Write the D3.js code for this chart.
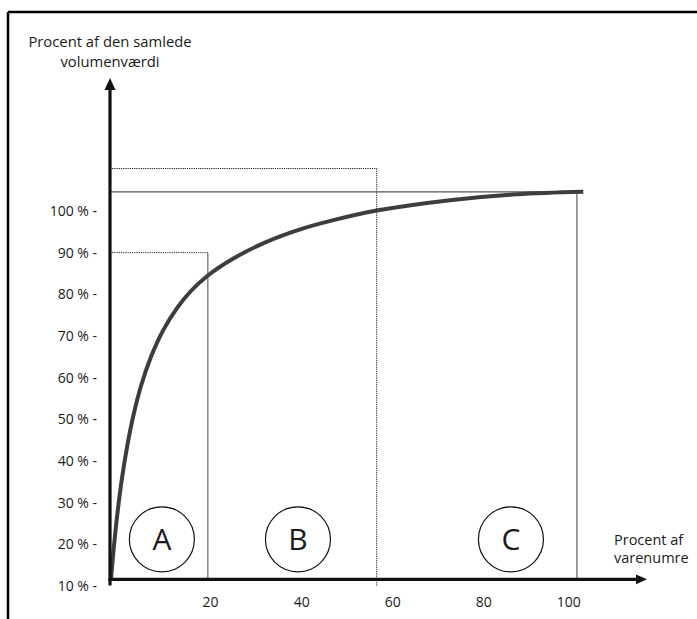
<!DOCTYPE html>
<html>
<head>
<meta charset="utf-8">
<script src="https://cdn.jsdelivr.net/npm/d3@7"></script>
<style>
  html, body { margin: 0; padding: 0; background: #fff; }
  svg { display: block; }
  text { font-family: "Open Sans", "Noto Sans", sans-serif; fill: #1a1a1a; }
</style>
</head>
<body>
<svg id="chart" width="697" height="619"></svg>
<script>
// ---- Data ----
const yTickValues = [10, 20, 30, 40, 50, 60, 70, 80, 90, 100];
const xTickValues = [20, 40, 60, 80, 100];
const curveX = [-1.78, -1.34, -0.90, -0.24, 0.64, 1.74, 3.05, 4.81, 7.01, 9.64, 12.72, 15.79, 19.37, 25.1, 32.4, 39.8, 47.1, 56.6, 72.7, 87.4, 102.0];
const curveY = [11.7, 17.2, 22.1, 28.6, 35.9, 43.3, 50.5, 58.0, 65.0, 71.3, 76.7, 80.8, 84.4, 88.6, 92.6, 95.6, 97.8, 100.1, 102.6, 104.0, 104.6];
const zoneLabels = ["A", "B", "C"];
const zoneCenters = [9.4, 39.3, 86.1];       // x (percent of item numbers)
const zoneCenterY = 21.2;                     // y (percent of value)
const boundaryAB = 19.5, levelA = 90;         // A/B split, 90 % level
const boundaryBC = 56.6, levelB = 110.2;      // B/C split, its level
const boundaryEnd = 100.6, levelEnd = 104.6;  // end of C, 100 % level line
const yTitle = ["Procent af den samlede", "volumenværdi"];
const xTitle = ["Procent af", "varenumre"];

// ---- Scales ----
const svg = d3.select("#chart");
const x = d3.scaleLinear().domain([-2, 116]).range([110, 647]);
const y = d3.scaleLinear().domain([10, 100]).range([586, 211]);
const xAxisLevel = 11.6;     // where the x axis crosses
const yAxisTop = 131.9;      // arrow tip of y axis
const yAxisBottom = 10.1;

// ---- Frame (top and left border) ----
svg.append("line").attr("x1", 8).attr("x2", 697).attr("y1", 12).attr("y2", 12)
  .attr("stroke", "#000").attr("stroke-width", 2.5);
svg.append("line").attr("x1", 8).attr("x2", 8).attr("y1", 12).attr("y2", 619)
  .attr("stroke", "#000").attr("stroke-width", 2.5);

// ---- Reference lines ----
const dotted = "1.2,1";
svg.append("line").attr("x1", x(-2)).attr("x2", x(boundaryAB)).attr("y1", y(levelA)).attr("y2", y(levelA))
  .attr("stroke", "#222").attr("stroke-width", 1).attr("stroke-dasharray", dotted);
svg.append("line").attr("x1", x(boundaryAB)).attr("x2", x(boundaryAB)).attr("y1", y(levelA)).attr("y2", y(xAxisLevel))
  .attr("stroke", "#666").attr("stroke-width", 1.2);
svg.append("line").attr("x1", x(-2)).attr("x2", x(boundaryBC)).attr("y1", y(levelB)).attr("y2", y(levelB))
  .attr("stroke", "#222").attr("stroke-width", 1).attr("stroke-dasharray", dotted);
svg.append("line").attr("x1", x(boundaryBC)).attr("x2", x(boundaryBC)).attr("y1", y(levelB)).attr("y2", y(yAxisBottom))
  .attr("stroke", "#222").attr("stroke-width", 1).attr("stroke-dasharray", dotted);
svg.append("line").attr("x1", x(-2)).attr("x2", x(boundaryEnd)).attr("y1", y(levelEnd)).attr("y2", y(levelEnd))
  .attr("stroke", "#555").attr("stroke-width", 1.2);
svg.append("line").attr("x1", x(boundaryEnd)).attr("x2", x(boundaryEnd)).attr("y1", y(levelEnd)).attr("y2", y(xAxisLevel))
  .attr("stroke", "#777").attr("stroke-width", 1.4);

// ---- Curve ----
const pts = curveX.map((v, i) => [v, curveY[i]]);
svg.append("path").datum(pts)
  .attr("d", d3.line().x(d => x(d[0])).y(d => y(d[1])).curve(d3.curveCatmullRom.alpha(0.5)))
  .attr("fill", "none").attr("stroke", "#3d3d3d").attr("stroke-width", 4);

// ---- Zone circles ----
const zones = svg.append("g");
zoneLabels.forEach((lab, i) => {
  zones.append("circle").attr("cx", x(zoneCenters[i])).attr("cy", y(zoneCenterY)).attr("r", 32.5)
    .attr("fill", "none").attr("stroke", "#111").attr("stroke-width", 1.2);
  zones.append("text").attr("x", x(zoneCenters[i])).attr("y", y(zoneCenterY))
    .attr("text-anchor", "middle").attr("dy", "0.36em")
    .style("font-size", "30px").text(lab);
});

// ---- Axes lines with arrows ----
svg.append("line").attr("x1", x(-2)).attr("x2", x(-2)).attr("y1", y(yAxisBottom)).attr("y2", y(yAxisTop) + 10)
  .attr("stroke", "#111").attr("stroke-width", 3.2);
svg.append("path")
  .attr("d", `M${x(-2)},${y(yAxisTop)} L${x(-2) - 5.5},${y(yAxisTop) + 12} L${x(-2) + 5.5},${y(yAxisTop) + 12} Z`)
  .attr("fill", "#111");
svg.append("line").attr("x1", x(-2) - 1.6).attr("x2", x(116) - 9).attr("y1", y(xAxisLevel)).attr("y2", y(xAxisLevel))
  .attr("stroke", "#111").attr("stroke-width", 3.2);
svg.append("path")
  .attr("d", `M${x(116)},${y(xAxisLevel)} L${x(116) - 11},${y(xAxisLevel) - 4.8} L${x(116) - 11},${y(xAxisLevel) + 4.8} Z`)
  .attr("fill", "#111");

// ---- Axis ticks (labels only) ----
const yAx = svg.append("g").attr("transform", `translate(${x(-2)},0)`)
  .call(d3.axisLeft(y).tickValues(yTickValues).tickSize(0).tickPadding(13).tickFormat(d => d + " % -"));
yAx.select(".domain").remove();
yAx.selectAll("text").style("font-size", "14px").attr("fill", "#1a1a1a").style("font-family", "'Open Sans', sans-serif");

const xAx = svg.append("g").attr("transform", `translate(0,${y(xAxisLevel)})`)
  .call(d3.axisBottom(x).tickValues(xTickValues).tickSize(0).tickPadding(18).tickFormat(d3.format("d")));
xAx.select(".domain").remove();
xAx.selectAll("text").style("font-size", "14px").attr("fill", "#1a1a1a").style("font-family", "'Open Sans', sans-serif")
  .attr("dx", d => d === 100 ? -6 : 0);

// ---- Titles ----
svg.append("text").attr("x", 110).attr("y", 47).attr("text-anchor", "middle").style("font-size", "14.8px")
  .selectAll("tspan").data(yTitle).join("tspan")
  .attr("x", 110).attr("dy", (d, i) => i === 0 ? 0 : 19.5).text(d => d);
svg.append("text").attr("x", 614).attr("y", 545).attr("text-anchor", "start").style("font-size", "14.5px")
  .selectAll("tspan").data(xTitle).join("tspan")
  .attr("x", 614).attr("dy", (d, i) => i === 0 ? 0 : 18).text(d => d);
</script>
</body>
</html>
